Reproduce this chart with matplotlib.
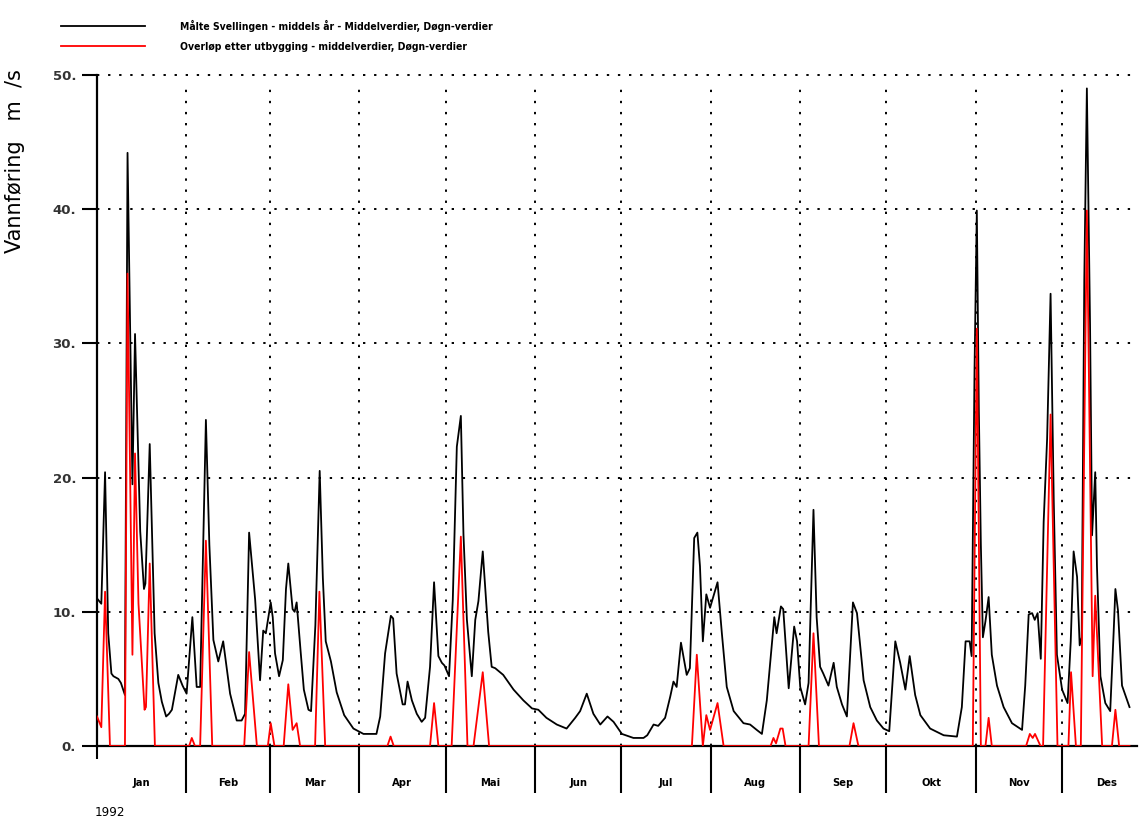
import matplotlib
matplotlib.use("Agg")
import matplotlib.pyplot as plt
from matplotlib.transforms import blended_transform_factory

# day of year (1992, day 0 = 1 Jan) and flow in m3/s
black_days = [0, 1.5, 2.8, 3.9, 5.0, 5.7, 7.4, 8.3, 9.7, 10.6, 12.3, 13.2, 15.0, 16.3, 16.8,
              18.3, 20.0, 21.3, 22.5, 24.0, 25.0, 26.0, 28.2, 29.7, 31.1, 33.1, 34.6, 35.8,
              37.8, 39.0, 40.4, 42.1, 43.8, 46.2, 48.5, 50.2, 51.4, 52.8, 54.9, 56.6, 57.7,
              58.6, 60.3, 61.0, 61.8, 63.2, 64.5, 65.6, 66.4, 67.9, 68.6, 69.3, 70.7, 71.8,
              73.4, 74.3, 75.8, 77.3, 78.4, 79.4, 81.2, 83.2, 85.8, 89.0, 92.5, 97.0, 98.3,
              100.0, 102.0, 102.8, 104.0, 106.1, 106.9, 107.8, 109.3, 111.0, 112.7, 113.9,
              115.6, 117.0, 118.5, 119.7, 120.6, 122.2, 123.5, 124.9, 126.3, 127.2, 128.4,
              130.1, 131.3, 132.4, 133.9, 135.8, 137.0, 138.2, 141.0, 144.6, 148.0, 151.0,
              153.2, 156.0, 159.6, 163.0, 166.0, 167.7, 170.0, 172.3, 174.7, 177.2, 179.3,
              182.2, 186.2, 189.7, 191.0, 193.2, 194.8, 197.2, 199.0, 200.1, 201.2, 202.7,
              204.7, 205.8, 207.3, 208.4, 209.3, 210.3, 211.5, 212.8, 215.4, 216.9, 218.6,
              221.0, 224.4, 226.7, 229.0, 230.8, 232.5, 235.1, 235.9, 237.4, 238.2, 240.1,
              242.0, 243.0, 244.1, 245.8, 247.0, 248.7, 249.8, 251.0, 252.1, 253.9, 255.7,
              256.8, 258.6, 260.3, 261.5, 262.4, 263.8, 266.1, 268.4, 270.7, 273.0, 275.0,
              277.1, 278.8, 280.6, 282.1, 284.0, 285.8, 289.2, 293.9, 298.5, 300.2, 301.5,
              302.9, 303.6, 304.6, 305.4, 306.1, 306.8, 307.5, 308.4, 309.5, 310.6, 312.4,
              314.7, 317.6, 321.1, 322.2, 323.4, 324.6, 325.5, 326.5, 327.6, 328.6, 329.8,
              331.0, 332.1, 333.2, 335.0, 336.9, 338.0, 339.0, 340.2, 341.1, 341.8, 342.7,
              343.6, 344.7, 345.4, 346.5, 347.1, 348.3, 350.0, 351.7, 352.9, 353.5, 354.4,
              355.8, 358.4]
black_vals = [11.0, 10.6, 20.4, 8.4, 5.4, 5.2, 5.0, 4.7, 3.8, 44.2, 19.5, 30.7, 16.0, 11.7, 12.1,
              22.5, 8.4, 4.7, 3.3, 2.2, 2.4, 2.7, 5.3, 4.5, 3.9, 9.6, 4.4, 4.4,
              24.3, 15.0, 7.9, 6.3, 7.8, 3.9, 1.9, 1.9, 2.4, 15.9, 10.9, 4.9, 8.6,
              8.4, 10.7, 9.6, 6.9, 5.2, 6.4, 11.7, 13.6, 10.2, 10.0, 10.7, 7.0, 4.2,
              2.7, 2.6, 9.0, 20.5, 12.5, 7.8, 6.3, 4.0, 2.3, 1.3, 0.9, 0.9, 2.2,
              6.9, 9.7, 9.5, 5.4, 3.1, 3.1, 4.8, 3.4, 2.4, 1.8, 2.1,
              5.9, 12.2, 6.7, 6.2, 6.0, 5.2, 10.9, 22.3, 24.6, 15.8, 9.4,
              5.2, 9.4, 10.8, 14.5, 8.5, 5.9, 5.8, 5.3, 4.2, 3.4, 2.8,
              2.7, 2.1, 1.6, 1.3, 2.1, 2.6, 3.9, 2.4, 1.6, 2.2, 1.8,
              0.9, 0.6, 0.6, 0.8, 1.6, 1.5, 2.1, 3.7, 4.8, 4.4, 7.7,
              5.3, 5.8, 15.5, 15.9, 13.4, 7.8, 11.3, 10.3, 12.2, 8.4, 4.4,
              2.6, 1.7, 1.6, 1.2, 0.9, 3.4, 9.6, 8.4, 10.4, 10.2, 4.3,
              8.9, 7.8, 4.4, 3.1, 4.7, 17.6, 9.6, 5.9, 5.4, 4.5, 6.2,
              4.4, 3.1, 2.2, 7.1, 10.7, 9.9, 4.9, 2.9, 1.9, 1.3, 1.1,
              7.8, 6.2, 4.2, 6.7, 3.8, 2.3, 1.3, 0.8, 0.7, 2.9, 7.8,
              7.8, 6.7, 28.0, 39.9, 25.0, 15.0, 8.1, 9.3, 11.1, 6.8, 4.5,
              2.9, 1.7, 1.2, 4.5, 9.8, 9.9, 9.4, 9.9, 6.5, 16.7, 22.9,
              33.7, 18.3, 6.8, 4.2, 3.2, 7.8, 14.5, 12.6, 7.5, 8.1, 34.7,
              49.0, 31.4, 15.7, 20.4, 13.4, 5.2, 3.2, 2.6, 8.5, 11.7, 10.1,
              4.5, 2.9]

red_days = [0, 1.5, 2.8, 4.5, 9.7, 10.6, 12.3, 13.2, 14.4, 16.5, 17.0, 18.3, 20.1,
            32.0, 32.9, 34.0, 35.8, 37.8, 40.0, 51.1, 52.8, 55.5, 59.3, 60.3, 61.6,
            64.8, 66.4, 67.9, 69.3, 70.5, 75.7, 77.2, 79.2, 100.8, 101.9, 103.0,
            115.6, 117.0, 118.5, 123.1, 126.3, 128.6, 130.7, 133.9, 136.1,
            206.5, 208.2, 210.3, 211.5, 212.8, 215.4, 217.5, 233.8, 234.8, 235.7,
            237.2, 238.0, 239.0, 247.0, 248.7, 250.6, 261.2, 262.6, 264.3,
            304.0, 305.4, 306.8, 308.4, 309.5, 310.6, 322.5, 323.8, 324.8, 325.6,
            327.5, 328.4, 331.0, 333.4, 337.2, 338.1, 339.8, 341.5, 343.6, 345.6,
            346.5, 348.9, 352.3, 353.5, 354.8, 358.4]
red_vals = [2.2, 1.4, 11.5, 0, 0, 35.2, 6.8, 21.8, 10.6, 2.7, 2.9, 13.6, 0,
            0, 0.6, 0, 0, 15.3, 0, 0, 7.0, 0, 0, 1.7, 0,
            0, 4.6, 1.2, 1.7, 0, 0, 11.5, 0, 0, 0.7, 0,
            0, 3.2, 0, 0, 15.6, 0, 0, 5.5, 0,
            0, 6.8, 0, 2.3, 1.2, 3.2, 0, 0, 0.6, 0.2,
            1.3, 1.3, 0, 0, 8.4, 0, 0, 1.7, 0,
            0, 31.1, 0, 0, 2.1, 0, 0, 0.9, 0.6, 0.9,
            0, 0, 24.7, 0, 0, 5.5, 0, 0, 39.9, 5.2,
            11.2, 0, 0, 2.7, 0, 0]

month_starts = [0, 31, 60, 91, 121, 152, 182, 213, 244, 274, 305, 335, 366]
month_names = ["Jan", "Feb", "Mar", "Apr", "Mai", "Jun", "Jul", "Aug", "Sep", "Okt", "Nov", "Des"]
y_ticks = [0, 10, 20, 30, 40, 50]

label_black = "Målte Svellingen - middels år - Middelverdier, Døgn-verdier"
label_red = "Overløp etter utbygging - middelverdier, Døgn-verdier"

narrow = {"family": "DejaVu Sans", "stretch": "condensed"}

fig = plt.figure(figsize=(11.39, 8.25), dpi=100)
ax = fig.add_axes([97 / 1139, 79 / 825, 1040 / 1139, 671 / 825])

ax.plot(black_days, black_vals, color="black", lw=1.3, label=label_black, zorder=3)
ax.plot(red_days, red_vals, color="red", lw=1.3, label=label_red, zorder=4)

ax.set_xlim(0, 361)
ax.set_ylim(0, 50)

for s in ["top", "right"]:
    ax.spines[s].set_visible(False)
for s in ["left", "bottom"]:
    ax.spines[s].set_linewidth(1.6)

dots = (0, (1.2, 4.5))
for d in month_starts[1:12]:
    ax.plot([d, d], [0, 49], color="black", lw=1.4, ls=dots, zorder=1)
for v in y_ticks[1:]:
    ax.plot([0, 361], [v, v], color="black", lw=1.4, ls=dots, zorder=1, clip_on=False)

ax.set_yticks(y_ticks)
ax.set_yticklabels([f"{v}." for v in y_ticks], fontsize=9.5, fontweight="bold", color="#333333")
ax.tick_params(axis="y", direction="out", length=11, width=1.5, pad=4)

ax.set_xticks(month_starts[1:12])
ax.set_xticklabels([])
ax.set_xticks([0], minor=True)
ax.tick_params(axis="x", which="major", direction="out", length=34, width=1.5)
ax.tick_params(axis="x", which="minor", direction="out", length=9, width=1.5)

trans = blended_transform_factory(ax.transData, ax.transAxes)
for i, name in enumerate(month_names):
    mid = (month_starts[i] + month_starts[i + 1]) / 2
    ax.text(mid, -0.055, name, transform=trans, ha="center", va="center",
            fontsize=8, fontweight="bold", **narrow)

fig.text(110 / 1139, 1 - 813 / 825, "1992", ha="center", va="center",
         fontsize=9.5, **narrow)

ax.set_ylabel("Vannføring   m  /s", fontsize=15, labelpad=0)
ax.yaxis.set_label_coords(-0.069, 0.872)

fig.legend(loc="upper left", bbox_to_anchor=(61 / 1139, 1 - 20 / 825), frameon=False,
           borderpad=0, borderaxespad=0, handlelength=8.1, handletextpad=3.3,
           labelspacing=0.95, prop={"family": "DejaVu Sans", "stretch": "condensed",
                                    "weight": "bold", "size": 7.5})

fig.savefig("out.png", dpi=100)
